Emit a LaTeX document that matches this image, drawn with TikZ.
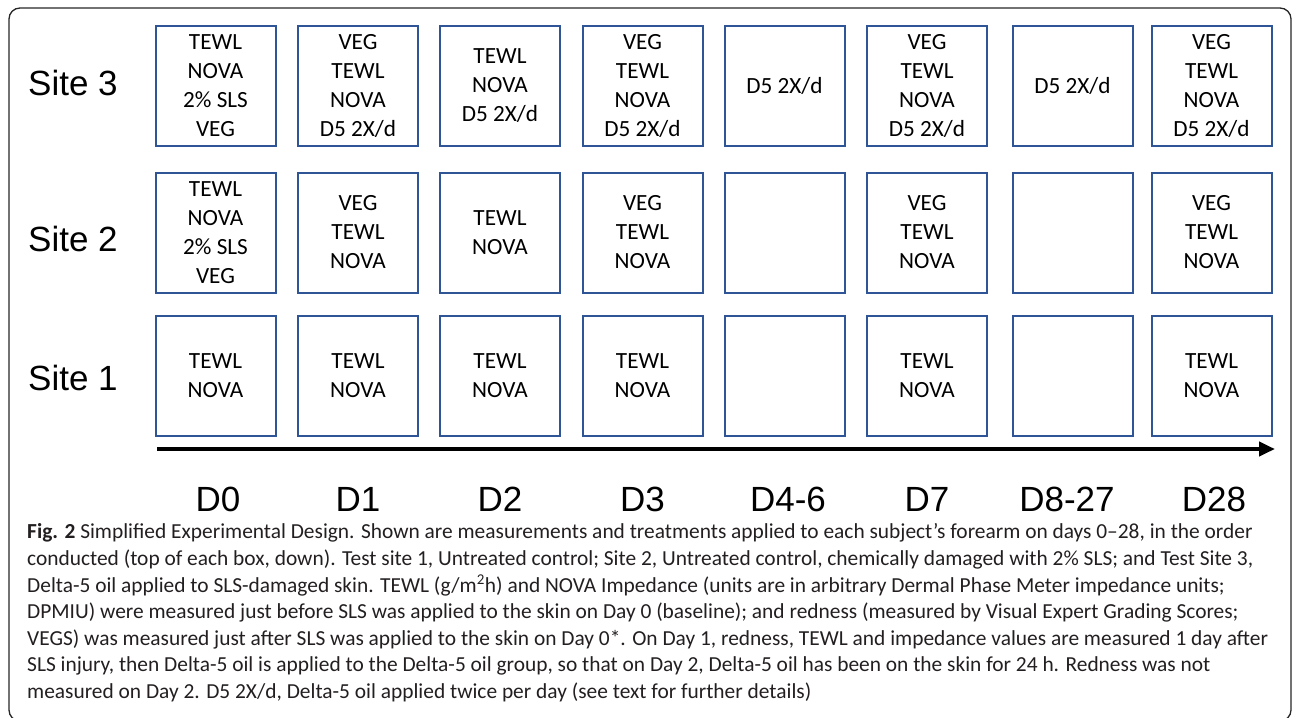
\documentclass[tikz,border=0pt]{standalone}
\usepackage{fontspec}
\setmainfont{Carlito}
\newfontfamily\arialf{Liberation Sans}
\newfontfamily\calf{Carlito}
\usetikzlibrary{arrows.meta}
\definecolor{boxblue}{RGB}{47,85,151}
\definecolor{captext}{RGB}{35,31,32}
\begin{document}
\begin{tikzpicture}[x=1pt,y=-1pt,
  daybox/.style={draw=boxblue, line width=2pt, minimum width=120pt, minimum height=120pt,
    inner sep=0pt, align=center, font=\calf\fontsize{23.2}{29}\selectfont},
  sitelabel/.style={anchor=base west, inner sep=0pt, font=\arialf\fontsize{35}{40}\selectfont},
  daylabel/.style={anchor=base, inner sep=0pt, font=\arialf\fontsize{35}{40}\selectfont},
  timeline/.style={line width=4pt, -{Triangle[length=16pt,width=14pt]}},
  frame/.style={draw=black!85, line width=1.3pt, rounded corners=11pt}]
\clip (0,0) rectangle (1292,717);
\draw[frame] (9,8) rectangle (1291,721);
% site labels
\node[sitelabel] (s3) at (28,95) {Site 3};
\node[sitelabel] (s2) at (28,251) {Site 2};
\node[sitelabel] (s1) at (28,390) {Site 1};
% row 3
\node[daybox] (r3c1) at (215.5,86) {TEWL\\NOVA\\2\% SLS\\VEG};
\node[daybox] (r3c2) at (358,86) {VEG\\TEWL\\NOVA\\D5 2X/d};
\node[daybox] (r3c3) at (500,86) {TEWL\\NOVA\\D5 2X/d};
\node[daybox] (r3c4) at (642.5,86) {VEG\\TEWL\\NOVA\\D5 2X/d};
\node[daybox] (r3c5) at (784.5,86) {D5 2X/d};
\node[daybox] (r3c6) at (927,86) {VEG\\TEWL\\NOVA\\D5 2X/d};
\node[daybox] (r3c7) at (1072.5,86) {D5 2X/d};
\node[daybox] (r3c8) at (1211.5,86) {VEG\\TEWL\\NOVA\\D5 2X/d};
% row 2
\node[daybox] (r2c1) at (215.5,232.5) {TEWL\\NOVA\\2\% SLS\\VEG};
\node[daybox] (r2c2) at (358,232.5) {VEG\\TEWL\\NOVA};
\node[daybox] (r2c3) at (500,232.5) {TEWL\\NOVA};
\node[daybox] (r2c4) at (642.5,232.5) {VEG\\TEWL\\NOVA};
\node[daybox] (r2c5) at (784.5,232.5) {};
\node[daybox] (r2c6) at (927,232.5) {VEG\\TEWL\\NOVA};
\node[daybox] (r2c7) at (1072.5,232.5) {};
\node[daybox] (r2c8) at (1211.5,232.5) {VEG\\TEWL\\NOVA};
% row 1
\node[daybox] (r1c1) at (215.5,376) {TEWL\\NOVA};
\node[daybox] (r1c2) at (358,376) {TEWL\\NOVA};
\node[daybox] (r1c3) at (500,376) {TEWL\\NOVA};
\node[daybox] (r1c4) at (642.5,376) {TEWL\\NOVA};
\node[daybox] (r1c5) at (784.5,376) {};
\node[daybox] (r1c6) at (927,376) {TEWL\\NOVA};
\node[daybox] (r1c7) at (1072.5,376) {};
\node[daybox] (r1c8) at (1211.5,376) {TEWL\\NOVA};
% timeline
\coordinate (tstart) at (157,449);
\coordinate (tend) at (1275,449);
\draw[timeline] (tstart) -- (tend);
% day labels
\node[daylabel] (d0) at (218,511) {D0};
\node[daylabel] (d1) at (358,511) {D1};
\node[daylabel] (d2) at (500,511) {D2};
\node[daylabel] (d3) at (642.5,511) {D3};
\node[daylabel] (d46) at (788,511) {D4-6};
\node[daylabel] (d7) at (927,511) {D7};
\node[daylabel] (d827) at (1067,511) {D8-27};
\node[daylabel] (d28) at (1214,511) {D28};
% caption (base anchor = baseline of last line)
\node[anchor=base west, inner sep=0pt, align=left, text=captext,
  font=\calf\fontsize{21.4}{26.6}\selectfont] (cap) at (27,698.5) {%
\textbf{Fig. 2} Simplified Experimental Design. Shown are measurements and treatments applied to each subject’s forearm on days 0–28, in the order\\
conducted (top of each box, down). Test site 1, Untreated control; Site 2, Untreated control, chemically damaged with 2\% SLS; and Test Site 3,\\
Delta-5 oil applied to SLS-damaged skin. TEWL (g/m\textsuperscript{2}h) and NOVA Impedance (units are in arbitrary Dermal Phase Meter impedance units;\\
DPMIU) were measured just before SLS was applied to the skin on Day 0 (baseline); and redness (measured by Visual Expert Grading Scores;\\
VEGS) was measured just after SLS was applied to the skin on Day 0*. On Day 1, redness, TEWL and impedance values are measured 1 day after\\
SLS injury, then Delta-5 oil is applied to the Delta-5 oil group, so that on Day 2, Delta-5 oil has been on the skin for 24 h. Redness was not\\
measured on Day 2. D5 2X/d, Delta-5 oil applied twice per day (see text for further details)};
\end{tikzpicture}
\end{document}
